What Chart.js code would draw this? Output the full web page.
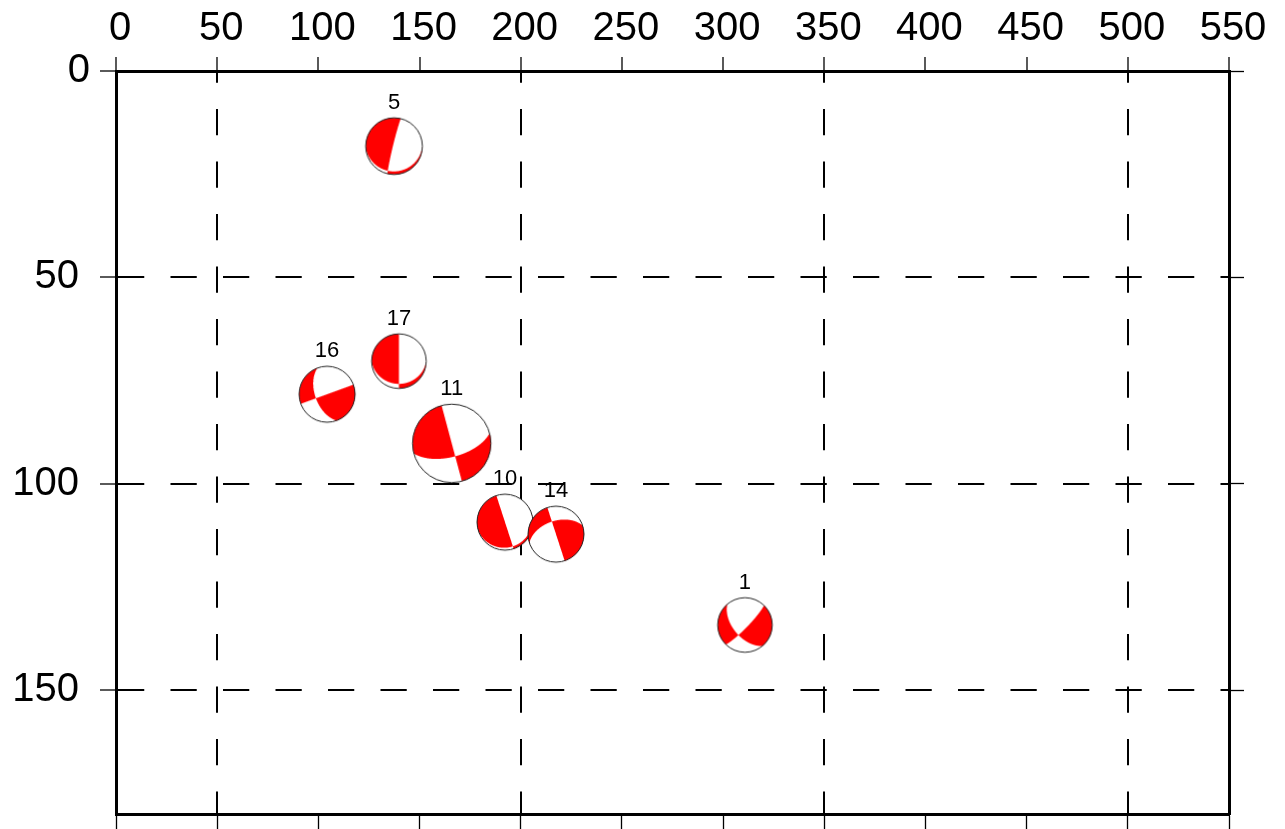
<!DOCTYPE html>
<html>
<head>
<meta charset="utf-8">
<title>Focal mechanisms</title>
<script src="https://cdn.jsdelivr.net/npm/chart.js@4.4.1/dist/chart.umd.min.js"></script>
<style>
  html, body { margin: 0; padding: 0; background: #fff; }
  canvas { display: block; }
</style>
</head>
<body>
<canvas id="mecaChart" width="1285" height="829"></canvas>
<script>
// events: id, position, magnitude and focal mechanism (strike / dip / rake)
const eventIds = ['1', '5', '10', '11', '14', '16', '17'];
const xValues = [310.8, 137.4, 192.2, 165.9, 217.4, 104.3, 139.8];
const yValues = [134.2, 18.2, 109.3, 90.2, 112.2, 78.3, 70.3];
const magnitudes = [3.9, 4.05, 4.0, 5.6, 4.0, 4.0, 3.9];
const strikes = [140, 88, 72, 75, 252, 160, 90];
const dips = [55, 12, 10, 62, 51, 55, 18];
const rakes = [-170, -16, 0, 0, 0, 180, 0];

// dashed grid only at these values
const xGridValues = [50, 200, 350, 500];
const yGridValues = [50, 100, 150];

const PX_PER_MAG = 7;
const FONT = '"Liberation Sans", Arial, sans-serif';

// lower hemisphere, equal area beachball drawn into a small canvas
function makeBall(strike, dip, rake, radius) {
    const ss = 4;
    const size = Math.ceil(radius * 2) + 4;
    const big = document.createElement('canvas');
    big.width = big.height = size * ss;
    const bctx = big.getContext('2d');
    const img = bctx.createImageData(big.width, big.height);
    const rad = Math.PI / 180;
    const phi = strike * rad, del = dip * rad, lam = rake * rad;
    const n = [-Math.sin(del) * Math.sin(phi), Math.sin(del) * Math.cos(phi), -Math.cos(del)];
    const u = [
        Math.cos(lam) * Math.cos(phi) + Math.sin(lam) * Math.cos(del) * Math.sin(phi),
        Math.cos(lam) * Math.sin(phi) - Math.sin(lam) * Math.cos(del) * Math.cos(phi),
        -Math.sin(lam) * Math.sin(del)
    ];
    const c = big.width / 2, R = radius * ss;
    for (let py = 0; py < big.height; py++) {
        for (let px = 0; px < big.width; px++) {
            const e = (px + 0.5 - c) / R;
            const nn = (c - py - 0.5) / R;
            const r = Math.sqrt(e * e + nn * nn);
            if (r > 1) continue;
            const inc = 2 * Math.asin(r / Math.SQRT2);
            const az = Math.atan2(e, nn);
            const g = [Math.sin(inc) * Math.cos(az), Math.sin(inc) * Math.sin(az), Math.cos(inc)];
            const amp = (n[0] * g[0] + n[1] * g[1] + n[2] * g[2]) * (u[0] * g[0] + u[1] * g[1] + u[2] * g[2]);
            const k = (py * big.width + px) * 4;
            img.data[k] = 255;
            img.data[k + 1] = amp > 0 ? 0 : 255;
            img.data[k + 2] = amp > 0 ? 0 : 255;
            img.data[k + 3] = 255;
        }
    }
    bctx.putImageData(img, 0, 0);

    const out = document.createElement('canvas');
    out.width = out.height = size;
    const octx = out.getContext('2d');
    octx.imageSmoothingEnabled = true;
    octx.imageSmoothingQuality = 'high';
    octx.drawImage(big, 0, 0, size, size);
    octx.beginPath();
    octx.arc(size / 2, size / 2, radius, 0, Math.PI * 2);
    octx.lineWidth = 1;
    octx.strokeStyle = '#222';
    octx.stroke();
    return out;
}

const radii = magnitudes.map(m => m * PX_PER_MAG);
const balls = eventIds.map((id, i) => makeBall(strikes[i], dips[i], rakes[i], radii[i]));
const points = eventIds.map((id, i) => ({ x: xValues[i], y: yValues[i] }));

// event numbers above each ball
const eventLabels = {
    id: 'eventLabels',
    afterDatasetsDraw(chart) {
        const { ctx } = chart;
        const xs = chart.scales.x, ys = chart.scales.y;
        ctx.save();
        ctx.font = '22px ' + FONT;
        ctx.fillStyle = '#000';
        ctx.textAlign = 'center';
        ctx.textBaseline = 'middle';
        eventIds.forEach((id, i) => {
            ctx.fillText(id, xs.getPixelForValue(xValues[i]), ys.getPixelForValue(yValues[i]) - radii[i] - 15);
        });
        ctx.restore();
    }
};

const gridColor = (values) => (c) => values.includes(c.tick && c.tick.value) ? '#000' : 'rgba(0,0,0,0)';

// fixed axis sizes, no label overflow padding
function fixSize(size) {
    return function (s) {
        if (s.isHorizontal()) s.height = size; else s.width = size;
        s.paddingTop = s.paddingBottom = s.paddingLeft = s.paddingRight = 0;
    };
}

const ctx = document.getElementById('mecaChart').getContext('2d');
new Chart(ctx, {
    type: 'scatter',
    data: {
        datasets: [{
            data: points,
            pointStyle: balls,
            pointRadius: radii,
            pointHoverRadius: radii
        }]
    },
    options: {
        responsive: false,
        animation: false,
        devicePixelRatio: 1,
        events: [],
        layout: { padding: 0, autoPadding: false },
        plugins: {
            legend: { display: false },
            tooltip: { enabled: false }
        },
        scales: {
            x: {
                type: 'linear',
                position: 'top',
                min: 0,
                max: 550,
                z: 1,
                ticks: {
                    stepSize: 50,
                    padding: 8,
                    labelOffset: 4,
                    color: '#000',
                    maxRotation: 0,
                    autoSkip: false,
                    font: { family: FONT, size: 40, lineHeight: 1 }
                },
                grid: {
                    color: gridColor(xGridValues),
                    lineWidth: 2,
                    tickLength: 14,
                    tickColor: '#000',
                    tickWidth: 1.3
                },
                border: { color: '#000', width: 3, dash: [26.25, 26.25], dashOffset: 16.5 },
                afterFit: fixSize(71)
            },
            x2: {
                type: 'linear',
                position: 'bottom',
                min: 0,
                max: 550,
                z: 1,
                ticks: { stepSize: 50, display: false },
                grid: { drawOnChartArea: false, tickLength: 15, tickColor: '#000', tickWidth: 1.3 },
                border: { color: '#000', width: 3 },
                afterFit: fixSize(15)
            },
            y: {
                type: 'linear',
                position: 'left',
                min: 0,
                max: 180,
                reverse: true,
                z: 1,
                ticks: {
                    stepSize: 50,
                    includeBounds: false,
                    padding: 10,
                    color: '#000',
                    font: { family: FONT, size: 40, lineHeight: 1 },
                    callback: (v) => v === 0 ? '0' : v + ' '
                },
                grid: {
                    color: gridColor(yGridValues),
                    lineWidth: 2,
                    tickLength: 16,
                    tickColor: '#000',
                    tickWidth: 1.3
                },
                border: { color: '#000', width: 3, dash: [26.25, 26.25], dashOffset: 0 },
                afterFit: fixSize(116)
            },
            y2: {
                type: 'linear',
                position: 'right',
                min: 0,
                max: 180,
                reverse: true,
                z: 1,
                ticks: { stepSize: 50, includeBounds: false, display: false },
                grid: { drawOnChartArea: false, tickLength: 15, tickColor: '#000', tickWidth: 1.3 },
                border: { color: '#000', width: 3 },
                afterFit: fixSize(56)
            }
        }
    },
    plugins: [eventLabels]
});
</script>
</body>
</html>
